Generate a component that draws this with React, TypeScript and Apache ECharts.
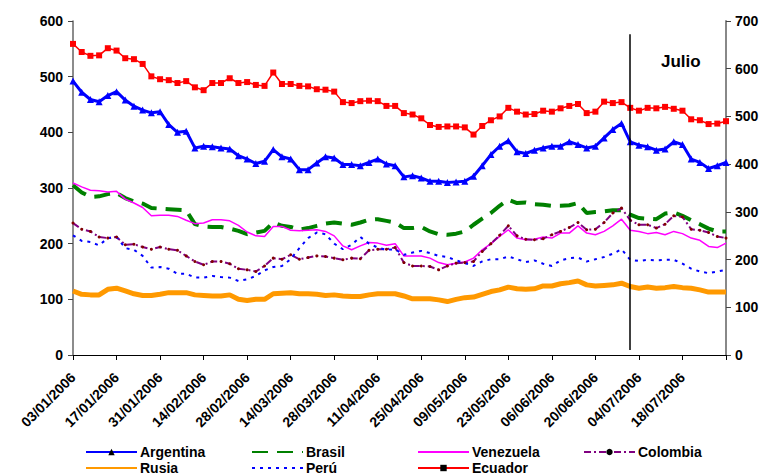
import React, { useEffect, useRef } from "react";
import * as echarts from "echarts";

const dates = [
  "03/01/2006", "05/01/2006", "09/01/2006", "11/01/2006", "13/01/2006",
  "17/01/2006", "19/01/2006", "23/01/2006", "25/01/2006", "27/01/2006",
  "31/01/2006", "02/02/2006", "06/02/2006", "08/02/2006", "10/02/2006",
  "14/02/2006", "16/02/2006", "20/02/2006", "22/02/2006", "24/02/2006",
  "28/02/2006", "02/03/2006", "06/03/2006", "08/03/2006", "10/03/2006",
  "14/03/2006", "16/03/2006", "20/03/2006", "22/03/2006", "24/03/2006",
  "28/03/2006", "30/03/2006", "03/04/2006", "05/04/2006", "07/04/2006",
  "11/04/2006", "13/04/2006", "17/04/2006", "19/04/2006", "21/04/2006",
  "25/04/2006", "27/04/2006", "01/05/2006", "03/05/2006", "05/05/2006",
  "09/05/2006", "11/05/2006", "15/05/2006", "17/05/2006", "19/05/2006",
  "23/05/2006", "25/05/2006", "29/05/2006", "31/05/2006", "02/06/2006",
  "06/06/2006", "08/06/2006", "12/06/2006", "14/06/2006", "16/06/2006",
  "20/06/2006", "22/06/2006", "26/06/2006", "28/06/2006", "30/06/2006",
  "04/07/2006", "06/07/2006", "10/07/2006", "12/07/2006", "14/07/2006",
  "18/07/2006", "20/07/2006", "24/07/2006", "26/07/2006", "28/07/2006",
  "01/08/2006",
];

const argentina = [
  492, 472, 459, 455, 466, 473, 458, 447, 440, 435, 437, 414, 400, 402, 372, 375, 374, 372, 370, 358, 352, 344, 348, 369, 356, 352,
  333, 333, 345, 356, 354, 342, 342, 340, 346, 352, 343, 340, 320, 322, 318, 312, 312, 310, 311, 312, 321, 340, 360, 375, 385,
  365, 362, 368, 372, 375, 375, 383, 378, 372, 375, 390, 405, 416, 383, 377, 374, 368, 370, 383, 378, 352, 346, 335, 340, 346,
];
const brasil = [
  305, 292, 284, 285, 289, 291, 282, 276, 272, 264, 263, 262, 261, 260, 235, 231, 230, 230, 227, 223, 217, 220, 223, 238, 232, 230,
  225, 228, 232, 236, 238, 236, 234, 238, 243, 244, 241, 238, 228, 228, 230, 222, 217, 216, 218, 222, 234, 245, 255, 268, 279,
  273, 274, 271, 270, 268, 268, 269, 273, 255, 257, 258, 260, 260, 252, 246, 245, 244, 254, 256, 250, 242, 235, 227, 222, 222,
];
const venezuela = [
  309, 302, 296, 295, 293, 294, 280, 273, 265, 250, 251, 251, 249, 242, 236, 237, 243, 243, 241, 233, 221, 214, 213, 231, 231, 224,
  223, 224, 225, 222, 214, 196, 189, 196, 202, 201, 197, 200, 178, 178, 178, 174, 166, 162, 165, 167, 174, 189, 200, 213, 225,
  210, 207, 208, 212, 210, 219, 219, 232, 219, 216, 222, 232, 244, 224, 222, 218, 220, 216, 222, 218, 210, 206, 195, 193, 201,
];
const colombia = [
  237, 226, 222, 212, 210, 212, 198, 199, 194, 190, 194, 190, 188, 178, 168, 162, 168, 168, 164, 155, 153, 150, 160, 174, 172, 180,
  172, 175, 178, 177, 174, 171, 174, 173, 188, 190, 190, 193, 166, 160, 160, 159, 153, 160, 165, 166, 168, 186, 200, 215, 232,
  214, 208, 207, 209, 216, 222, 229, 238, 225, 226, 238, 255, 264, 242, 234, 234, 228, 235, 250, 248, 226, 224, 220, 213, 210,
];
const rusia = [
  115, 109, 108, 108, 118, 120, 115, 110, 107, 107, 109, 112, 112, 112, 108, 107, 106, 106, 108, 100, 98, 100, 100, 110, 111, 112,
  110, 110, 109, 107, 108, 106, 105, 105, 108, 110, 110, 110, 106, 101, 101, 101, 99, 96, 100, 103, 104, 109, 114, 117, 122,
  119, 118, 119, 124, 124, 128, 130, 133, 126, 124, 125, 126, 129, 123, 120, 122, 120, 121, 123, 121, 120, 117, 113, 113, 113,
];
const peru = [
  215, 205, 203, 197, 210, 212, 192, 189, 178, 157, 158, 155, 146, 146, 139, 139, 142, 140, 139, 133, 136, 142, 152, 158, 160, 172,
  192, 210, 220, 217, 200, 190, 198, 212, 200, 193, 189, 190, 180, 184, 187, 183, 178, 176, 170, 165, 160, 168, 172, 172, 177,
  172, 167, 170, 164, 160, 170, 174, 175, 168, 172, 176, 182, 190, 171, 169, 171, 170, 171, 171, 164, 155, 150, 147, 150, 153,
];
// Ecuador is read on the right-hand axis
const ecuador = [
  652, 635, 627, 628, 643, 638, 622, 620, 610, 584, 578, 576, 570, 574, 561, 555, 570, 570, 580, 570, 572, 566, 564, 592, 568, 568,
  564, 563, 557, 556, 552, 530, 528, 532, 533, 532, 522, 522, 507, 504, 496, 482, 478, 479, 479, 477, 462, 480, 492, 500, 518,
  510, 504, 505, 512, 510, 517, 522, 526, 507, 510, 531, 528, 530, 518, 512, 518, 517, 520, 516, 512, 494, 492, 484, 485, 490,
];

const leftTicks = { min: 0, max: 600, interval: 100 };
const rightTicks = { min: 0, max: 700, interval: 100 };
const julyMarkerDate = "30/06/2006";
const julyMarkerRange = [9, 576];
const julyLabel = "Julio";

const FONT = '"Liberation Sans", Arial, Helvetica, sans-serif';

const noSymbolSeries = ["Brasil", "Venezuela", "Rusia", "Perú"];

const legendLayout = [
  { name: "Argentina", left: 85, top: 445 },
  { name: "Brasil", left: 251, top: 445 },
  { name: "Venezuela", left: 417, top: 445 },
  { name: "Colombia", left: 583, top: 445 },
  { name: "Rusia", left: 85, top: 461 },
  { name: "Perú", left: 251, top: 461 },
  { name: "Ecuador", left: 417, top: 461 },
];

export default function App() {
  const ref = useRef<HTMLDivElement>(null);

  useEffect(() => {
    if (!ref.current) return;
    const chart = echarts.init(ref.current, null, { renderer: "svg" });

    const axisLabelStyle = {
      color: "#000",
      fontFamily: FONT,
      fontWeight: "bold" as const,
      fontSize: 14,
    };

    chart.setOption({
      animation: false,
      backgroundColor: "#fff",
      grid: { left: 73, right: 36, top: 21, bottom: 120, containLabel: false },
      legend: legendLayout.map((l) => ({
        data: [l.name],
        left: l.left,
        top: l.top,
        padding: 0,
        itemGap: 0,
        itemWidth: 51,
        itemHeight: 8,
        selectedMode: false,
        itemStyle: noSymbolSeries.includes(l.name) ? { opacity: 0 } : undefined,
        textStyle: {
          color: "#000",
          fontFamily: FONT,
          fontWeight: "bold",
          fontSize: 14,
          lineHeight: 14,
          padding: [0, 0, 0, -2],
        },
      })),
      xAxis: {
        type: "category",
        data: dates,
        boundaryGap: false,
        axisLine: { show: true, lineStyle: { color: "#000", width: 1 } },
        axisTick: {
          show: true,
          length: 5,
          interval: (i: number) => i % 5 === 0,
          lineStyle: { color: "#000" },
        },
        axisLabel: {
          ...axisLabelStyle,
          fontSize: 14,
          rotate: 45,
          margin: 20,
          interval: (i: number) => i % 5 === 0 && i < dates.length - 1,
        },
        splitLine: { show: false },
      },
      yAxis: [
        {
          type: "value",
          ...leftTicks,
          position: "left",
          axisLine: { show: true, lineStyle: { color: "#666", width: 1.5 } },
          axisTick: { show: true, length: 5, lineStyle: { color: "#444" } },
          axisLabel: { ...axisLabelStyle, margin: 10 },
          splitLine: { show: false },
        },
        {
          type: "value",
          ...rightTicks,
          position: "right",
          axisLine: { show: true, lineStyle: { color: "#888", width: 2 } },
          axisTick: { show: true, length: 5, lineStyle: { color: "#444" } },
          axisLabel: { ...axisLabelStyle, margin: 9 },
          splitLine: { show: false },
        },
      ],
      series: [
        {
          name: "Argentina",
          type: "line",
          data: argentina,
          yAxisIndex: 0,
          symbol: "triangle",
          symbolSize: 7,
          showAllSymbol: true,
          lineStyle: { color: "#0000FF", width: 3 },
          itemStyle: { color: "#0000FF" },
          z: 4,
          markLine: {
            silent: true,
            symbol: ["none", "none"],
            label: { show: false },
            lineStyle: { color: "#000", width: 1.5, type: "solid" },
            data: [
              [
                { coord: [julyMarkerDate, julyMarkerRange[0]] },
                { coord: [julyMarkerDate, julyMarkerRange[1]] },
              ],
            ],
          },
        },
        {
          name: "Brasil",
          type: "line",
          data: brasil,
          yAxisIndex: 0,
          symbol: "none",
          lineStyle: { color: "#008000", width: 4, type: [16, 9] },
          itemStyle: { color: "#008000" },
          z: 3,
        },
        {
          name: "Venezuela",
          type: "line",
          data: venezuela,
          yAxisIndex: 0,
          symbol: "none",
          lineStyle: { color: "#FF00FF", width: 1.5 },
          itemStyle: { color: "#FF00FF" },
          z: 3,
        },
        {
          name: "Colombia",
          type: "line",
          data: colombia,
          yAxisIndex: 0,
          symbol: "circle",
          symbolSize: 3,
          showAllSymbol: true,
          lineStyle: { color: "#800080", width: 2, type: [7, 3, 2, 3] },
          itemStyle: { color: "#800000" },
          z: 3,
        },
        {
          name: "Rusia",
          type: "line",
          data: rusia,
          yAxisIndex: 0,
          symbol: "none",
          lineStyle: { color: "#FF9900", width: 5 },
          itemStyle: { color: "#FF9900" },
          z: 2,
        },
        {
          name: "Perú",
          type: "line",
          data: peru,
          yAxisIndex: 0,
          symbol: "none",
          lineStyle: { color: "#0000FF", width: 2, type: [3, 5] },
          itemStyle: { color: "#0000FF" },
          z: 3,
        },
        {
          name: "Ecuador",
          type: "line",
          data: ecuador,
          yAxisIndex: 1,
          symbol: "rect",
          symbolSize: 6,
          showAllSymbol: true,
          lineStyle: { color: "#FF0000", width: 1.5 },
          itemStyle: { color: "#FF0000" },
          z: 4,
        },
      ],
      graphic: [
        {
          type: "text",
          left: 661,
          top: 53,
          style: {
            text: julyLabel,
            fill: "#000",
            font: `bold 17px ${FONT}`,
          },
        },
      ],
    });

    return () => chart.dispose();
  }, []);

  return (
    <div
      ref={ref}
      style={{ position: "fixed", left: 0, top: 0, width: 762, height: 475 }}
    />
  );
}
